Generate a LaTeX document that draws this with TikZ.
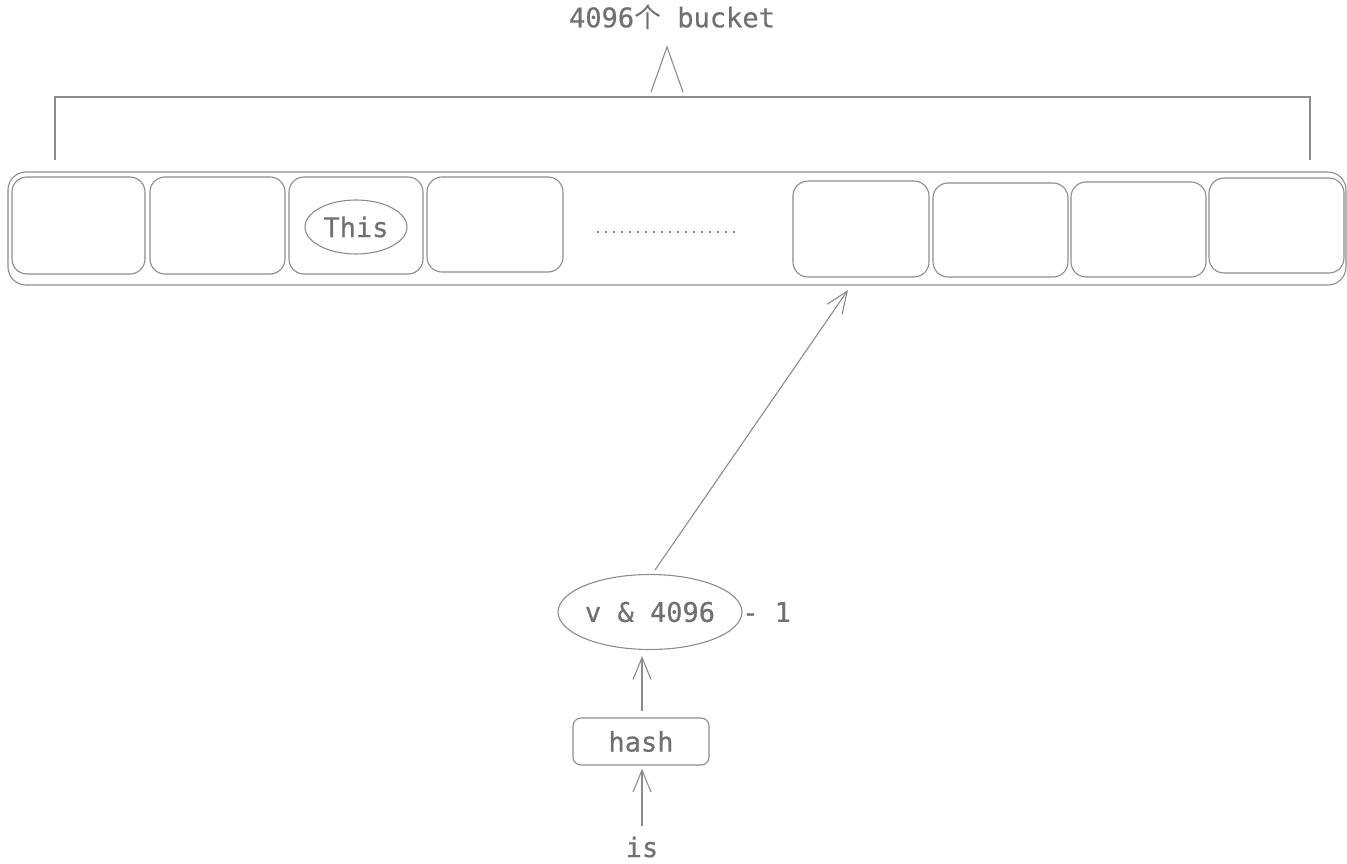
\documentclass[tikz,border=0pt]{standalone}
\usepackage{fontspec}
\usetikzlibrary{arrows.meta,shapes.geometric,calc}
\newfontfamily\codefont[FakeBold=0.6]{DejaVu Sans Mono}
\newfontfamily\cjk{Noto Sans CJK SC}
\definecolor{ink}{HTML}{8C8C8C}
\definecolor{txt}{HTML}{707070}
\begin{document}
\begin{tikzpicture}[x=1pt,y=-1pt,
  line/.style={draw=ink,line width=1.1pt},
  label/.style={text=txt,font=\codefont\fontsize{27}{30}\selectfont,inner sep=0pt},
  cell/.style={line,rounded corners=15pt},
  tip/.style={-{Straight Barb[length=22pt,width=18pt,line width=1.1pt]}}
]
\useasboundingbox (0,0) rectangle (1347,864);

% bucket count with bracket
\node[label] (title) at (672,17) {4096{\cjk 个} bucket};
\coordinate (bl) at (55,160);
\coordinate (br) at (1310,160);
\draw[line] (bl) -- (55,97) -- (1310,97) -- (br);
\coordinate (capL) at (651,92);
\coordinate (capT) at (667,47);
\coordinate (capR) at (683,92);
\draw[line] (capL) -- (capT) -- (capR);

% bucket array
\draw[cell,rounded corners=18pt] (8,172) rectangle (1346,285);
\draw[cell] (12,177) rectangle (145,274);
\draw[cell] (150,177) rectangle (285,274);
\draw[cell] (289,177) rectangle (423,274);
\draw[cell] (427,177) rectangle (563,272);
\draw[cell] (793,181) rectangle (929,277);
\draw[cell] (933,183) rectangle (1068,277);
\draw[cell] (1071,182) rectangle (1206,277);
\draw[cell] (1209,178) rectangle (1344,273);
\node[ellipse,line,minimum width=102pt,minimum height=54pt,label] (this) at (356,227) {This};
\coordinate (dotsL) at (597,232);
\coordinate (dotsR) at (735,232);
\draw[draw=ink,line width=1.4pt,dash pattern=on 1.6pt off 6.4pt] (dotsL) -- (dotsR);

% index computation
\node[ellipse,line,minimum width=180pt,minimum height=75pt,label] (mask) at (650,612) {v \& 4096};
\node[label,anchor=west] (minus) at (742,612) {- 1};
\node[line,rounded corners=8pt,minimum width=136pt,minimum height=47pt,label] (hash) at (641,741.5) {hash};
\node[label] (is) at (642,847) {is};
\coordinate (slot) at (848,290);
\coordinate (maskTop) at (655,570);

\draw[line,tip] (maskTop) -- (slot);
\draw[line,tip] (hash.north -| 642,0) ++(0,-6) -- ($(mask.south)+(-8,6)$);
\draw[line,tip] ($(is.north)+(0,-10)$) -- ($(hash.south)+(1,3)$);
\end{tikzpicture}
\end{document}
